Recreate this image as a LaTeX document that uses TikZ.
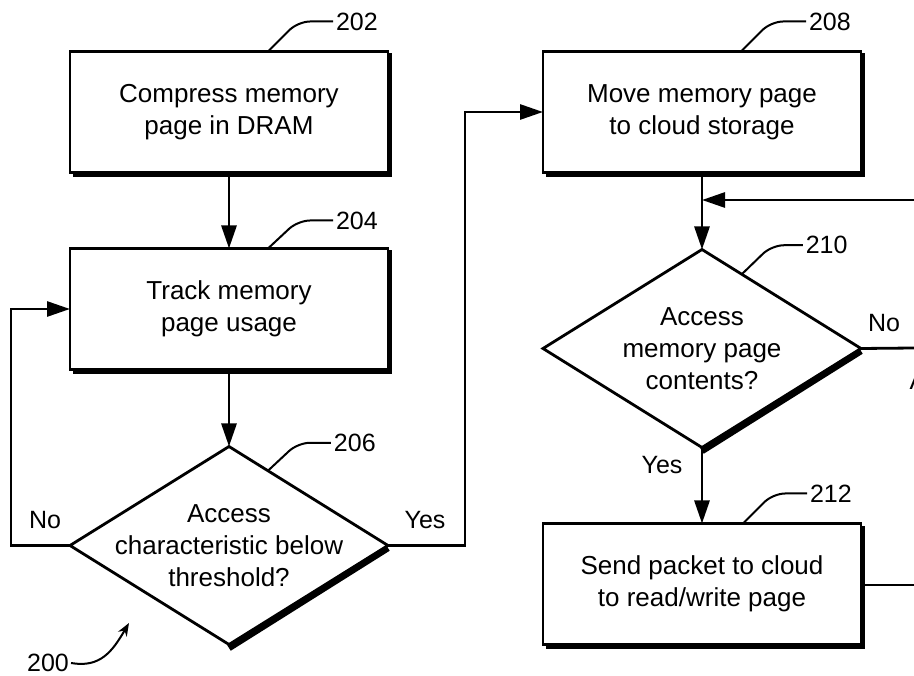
\documentclass[tikz,border=0pt]{standalone}
\usepackage{fontspec}
\setmainfont{Liberation Sans}
\usetikzlibrary{arrows.meta,positioning,shapes.geometric,calc}

\begin{document}
\begin{tikzpicture}[x=1pt,y=-1pt,
  stepbox/.style={rectangle,draw=black,line width=2.8pt,minimum width=318pt,minimum height=121pt,outer sep=0pt,align=center,font=\fontsize{26}{32}\selectfont},
  test/.style={diamond,draw=black,line width=2.8pt,minimum width=318pt,minimum height=198pt,inner sep=0pt,outer sep=0pt},
  testtext/.style={align=center,font=\fontsize{26}{32}\selectfont},
  flow/.style={line width=2.8pt,-{Triangle[length=23pt,width=15pt]}},
  link/.style={line width=2.8pt},
  edgeshade/.style={line width=3.2pt},
  leader/.style={line width=2pt,rounded corners=12pt},
  num/.style={font=\fontsize{25}{28}\selectfont,inner sep=2pt},
  answer/.style={font=\fontsize{25}{28}\selectfont}]
\useasboundingbox (0,0) rectangle (914,676);
\clip (0,0) rectangle (914,676);

% left column
\node[stepbox] (b202) at (229,112) {Compress memory\\page in DRAM};
\node[stepbox,below=76pt of b202] (b204) {Track memory\\page usage};
\node[test,below=77pt of b204,label={[testtext]center:{Access\\characteristic below\\threshold?}}] (d206) {};

% right column
\node[stepbox,right=155pt of b202] (b208) {Move memory page\\to cloud storage};
\node[test,below=77pt of b208,label={[testtext]center:{Access\\memory page\\contents?}}] (d210) {};
\node[stepbox,below=76pt of d210] (b212) {Send packet to cloud\\to read/write page};

% heavy lower/right edges
\draw[edgeshade] ([shift={(3,2.8)}]b202.south west) -- ([shift={(2.8,2.8)}]b202.south east) -- ([shift={(2.8,2)}]b202.north east);
\draw[edgeshade] ([shift={(3,2.8)}]b204.south west) -- ([shift={(2.8,2.8)}]b204.south east) -- ([shift={(2.8,2)}]b204.north east);
\draw[edgeshade] ([shift={(3,2.8)}]b208.south west) -- ([shift={(2.8,2.8)}]b208.south east) -- ([shift={(2.8,2)}]b208.north east);
\draw[edgeshade] ([shift={(3,2.8)}]b212.south west) -- ([shift={(2.8,2.8)}]b212.south east) -- ([shift={(2.8,2)}]b212.north east);
\draw[line width=6.5pt] ([shift={(0,2.5)}]d206.east) -- ([shift={(0,3.5)}]d206.south);
\draw[line width=6.5pt] ([shift={(0,2.5)}]d210.east) -- ([shift={(0,3.5)}]d210.south);

% off-page ends
\coordinate (back) at (914,200);
\coordinate (off210) at (914,348);
\coordinate (off212) at (914,585);

% flow lines
\draw[flow] (b202) -- (b204);
\draw[flow] (b204) -- (d206);
\draw[flow] (d206.west) -- ++(-59,0) |- (b204.west);
\draw[flow] (d206.east) -- ++(77,0) |- (b208.west);
\draw[flow] (b208) -- (d210);
\draw[flow] (back) -- (back -| b208.south);
\draw[flow] (d210) -- (b212);
\draw[link] (d210.east) -- (off210);
\draw[link] (b212.east |- off212) -- (off212);

\node[answer] (no206) at (45,520) {No};
\node[answer] (yes206) at (425,520) {Yes};
\node[answer] (no210) at (884,323) {No};
\node[answer] (yes210) at (662,465) {Yes};
\node[answer] (offA) at (918,381) {A};

% reference numerals
\draw[leader] ([xshift=39pt]b202.north) -- ++(30,-30) -- ++(35,0) node[num,right] (n202) {202};
\draw[leader] ([xshift=39pt]b204.north) -- ++(30,-28) -- ++(35,0) node[num,right] (n204) {204};
\draw[leader] ($(d206.north)!0.245!(d206.east)$) -- ++(30,-28) -- ++(33,0) node[num,right] (n206) {206};
\draw[leader] ([xshift=39pt]b208.north) -- ++(30,-30) -- ++(35,0) node[num,right] (n208) {208};
\draw[leader] ($(d210.north)!0.25!(d210.east)$) -- ++(30,-29) -- ++(31,0) node[num,right] (n210) {210};
\draw[leader] ([xshift=41pt]b212.north) -- ++(30,-30) -- ++(34,0) node[num,right] (n212) {212};

\node[num] (n200) at (48,663) {200};
\coordinate (p200) at (129,623);
\draw[line width=2pt,-{Stealth[length=13pt,width=10pt]}] (n200.east) .. controls (100,668) and (112,652) .. (p200);
\end{tikzpicture}
\end{document}
